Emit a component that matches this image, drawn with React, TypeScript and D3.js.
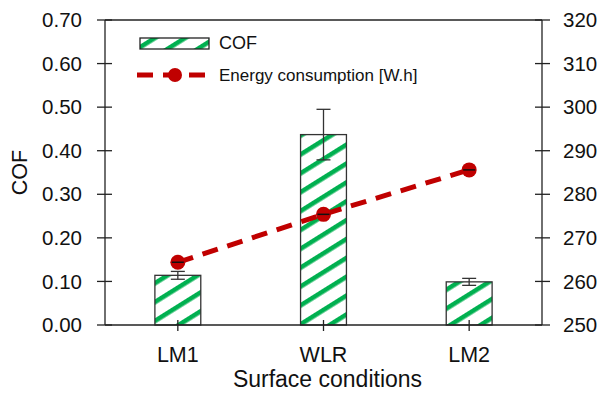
import React from 'react';
import * as d3 from 'd3';

const categories = ['LM1', 'WLR', 'LM2'];
const cofValues = [0.114, 0.437, 0.099];
const cofErrors = [0.009, 0.058, 0.008];
const energyValues = [264.4, 275.4, 285.6];
const cofTicks = [0, 0.1, 0.2, 0.3, 0.4, 0.5, 0.6, 0.7];
const energyTicks = [250, 260, 270, 280, 290, 300, 310, 320];

const WIDTH = 601;
const HEIGHT = 403;
const margin = { top: 20, right: 59, bottom: 78, left: 105 };
const GREEN = '#00b050';
const RED = '#c00000';
const AXIS = '#222';
const FONT = 'Liberation Sans, Arial, sans-serif';

export default function App() {
  const left = margin.left;
  const right = WIDTH - margin.right;
  const top = margin.top;
  const bottom = HEIGHT - margin.bottom;

  const x = d3.scaleBand<string>().domain(categories).range([left, right]).padding(0);
  const yCof = d3.scaleLinear().domain([0, 0.7]).range([bottom, top]);
  const yEnergy = d3.scaleLinear().domain([250, 320]).range([bottom, top]);
  const barWidth = x.bandwidth() * 0.315;
  const cx = (c: string) => (x(c) || 0) + x.bandwidth() / 2;

  const energyLine = d3
    .line<number>()
    .x((_, i) => cx(categories[i]))
    .y((v) => yEnergy(v));

  return (
    <svg
      width={WIDTH}
      height={HEIGHT}
      style={{ position: 'absolute', left: 0, top: 0, background: '#fff' }}
      fontFamily={FONT}
    >
      <defs>
        <pattern id="hatch" patternUnits="userSpaceOnUse" width={20} height={16} patternTransform="rotate(-32)">
          <rect width={20} height={16} fill="#fff" />
          <rect y={0} width={20} height={4.6} fill={GREEN} />
        </pattern>
      </defs>

      {/* bars */}
      {categories.map((c, i) => (
        <rect
          key={c}
          x={cx(c) - barWidth / 2}
          y={yCof(cofValues[i])}
          width={barWidth}
          height={bottom - yCof(cofValues[i])}
          fill="url(#hatch)"
          stroke="#333"
          strokeWidth={1.3}
        />
      ))}

      {/* error bars */}
      {categories.map((c, i) => {
        const y1 = yCof(cofValues[i] + cofErrors[i]);
        const y2 = yCof(cofValues[i] - cofErrors[i]);
        return (
          <g key={c} stroke="#333" strokeWidth={1.3}>
            <line x1={cx(c)} x2={cx(c)} y1={y1} y2={y2} />
            <line x1={cx(c) - 7} x2={cx(c) + 7} y1={y1} y2={y1} />
            <line x1={cx(c) - 7} x2={cx(c) + 7} y1={y2} y2={y2} />
          </g>
        );
      })}

      {/* energy line */}
      <path d={energyLine(energyValues) || ''} fill="none" stroke={RED} strokeWidth={5} strokeDasharray="16,10" />
      {categories.map((c, i) => (
        <g key={c}>
          <circle cx={cx(c)} cy={yEnergy(energyValues[i])} r={7.5} fill={RED} />
          <line x1={cx(c) - 6} x2={cx(c) + 6} y1={yEnergy(energyValues[i])} y2={yEnergy(energyValues[i])} stroke="#111" strokeWidth={1.5} />
        </g>
      ))}

      {/* frame */}
      <g stroke={AXIS} strokeWidth={1.3}>
        <line x1={left} x2={right} y1={top} y2={top} />
        <line x1={left} x2={right} y1={bottom} y2={bottom} />
        <line x1={left} x2={left} y1={top} y2={bottom} />
        <line x1={right} x2={right} y1={top} y2={bottom} />
      </g>

      {/* left axis */}
      {cofTicks.map((t) => (
        <g key={t}>
          <line x1={left - 8} x2={left + 7} y1={yCof(t)} y2={yCof(t)} stroke={AXIS} strokeWidth={1.3} />
          <text x={left - 23} y={yCof(t)} dy="0.35em" textAnchor="end" fontSize={20.5} fill="#111">
            {d3.format('.2f')(t)}
          </text>
        </g>
      ))}

      {/* right axis */}
      {energyTicks.map((t) => (
        <g key={t}>
          <line x1={right - 7} x2={right + 8} y1={yEnergy(t)} y2={yEnergy(t)} stroke={AXIS} strokeWidth={1.3} />
          <text x={right + 21} y={yEnergy(t)} dy="0.35em" textAnchor="start" fontSize={20.5} fill="#111">
            {t}
          </text>
        </g>
      ))}

      {/* x axis */}
      {categories.map((c) => (
        <g key={c}>
          <line x1={cx(c)} x2={cx(c)} y1={bottom - 5} y2={bottom + 6} stroke={AXIS} strokeWidth={1.3} />
          <text x={cx(c)} y={362} textAnchor="middle" fontSize={21.5} fill="#111">
            {c}
          </text>
        </g>
      ))}

      <text x={(left + right) / 2 + 4} y={387} textAnchor="middle" fontSize={23} fill="#111">
        Surface conditions
      </text>
      <text
        transform={`translate(27,${(top + bottom) / 2}) rotate(-90)`}
        textAnchor="middle"
        fontSize={21.5}
        fill="#111"
      >
        COF
      </text>

      {/* legend */}
      <rect x={140} y={38} width={69} height={11} fill="url(#hatch)" stroke="#222" strokeWidth={1.3} />
      <text x={219} y={49} fontSize={18} fill="#111">
        COF
      </text>
      <line x1={137} x2={209} y1={75} y2={75} stroke={RED} strokeWidth={5} strokeDasharray="16,10" />
      <circle cx={175} cy={75} r={7} fill={RED} />
      <text x={219} y={81} fontSize={17} fill="#111">
        Energy consumption [W.h]
      </text>
    </svg>
  );
}
